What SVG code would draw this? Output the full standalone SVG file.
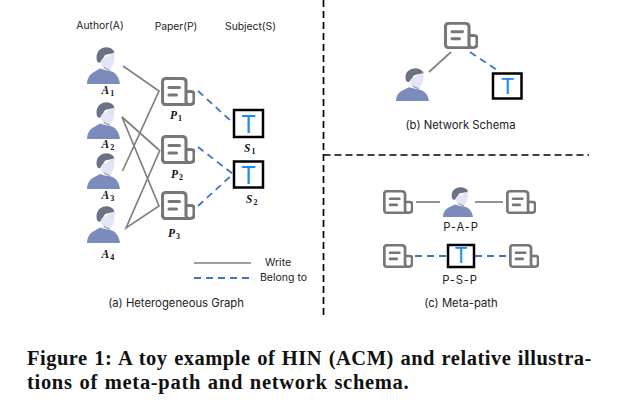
<svg xmlns="http://www.w3.org/2000/svg" xmlns:xlink="http://www.w3.org/1999/xlink" width="617" height="406" viewBox="0 0 617 406">
<style>
.w{stroke:#808080;stroke-width:1.7;fill:none}
.b{stroke:#4472C4;stroke-width:1.8;fill:none;stroke-dasharray:7 5}
.d{stroke:#000;stroke-width:1.7;fill:none;stroke-dasharray:7 4}
.t{font-family:"Inter","Liberation Sans",sans-serif;font-size:11.300px;fill:#222}
.h{font-size:10.300px}
.l{font-size:10.500px}
.pp{font-size:11.300px;letter-spacing:.8px}
.m{font-family:"Liberation Serif",serif;font-size:11.500px;font-weight:bold;font-style:italic;fill:#111}
.m tspan{font-size:8px;font-style:normal}
.tt{font-family:"Inter","Liberation Sans",sans-serif;font-weight:400;fill:#1E88F5;text-anchor:middle}
.box{fill:#fff;stroke:#000;stroke-width:2.500}
.c{font-family:"Liberation Serif",serif;font-weight:bold;font-size:20.500px;fill:#111}
</style>
<defs>
<symbol id="person" viewBox="0 0 33 37" preserveAspectRatio="none">
<path d="M0,37C0.500,30 3,27 8,24.500L13,21.500L18,23L23,24C28,25 32,29 33,37Z" fill="#7A8BBC"/>
<path d="M14,13L27.500,5C28,11 27,17 25,20C24,22 23.500,23.500 22,23.500L16,21.500C14,18 14,16 14,13Z" fill="#E3E5F5"/>
<path d="M10.500,15C8.500,11 9.500,5 13,2.500C16,0 20,-0.500 23,1C25.500,2 27,3.500 27.500,5.500C24,7 20,7 18,8C17,10 15.500,12 14.500,13L13,16Z" fill="#6C7285"/>
<path d="M17,20.500L23,23.500" stroke="#6C7285" stroke-width="0.800" fill="none"/>
</symbol>
<symbol id="paper" viewBox="0 0 34 29" preserveAspectRatio="none">
<g fill="none" stroke="#777" stroke-width="3.100" stroke-linecap="round" stroke-linejoin="round">
<path d="M26,27.500H5Q1.500,27.500 1.500,24V5Q1.500,1.500 5,1.500H21Q25,1.500 25,5V24Q25,27.500 28,27.500H29Q33,27.500 33,24V17Q33,14.500 30,14.500H25"/>
<path d="M8,10.500H18.500M8,18H15.500"/>
</g>
</symbol>
</defs>

<g id="connectors">
<path class="w" d="M123,66L159,91L122.500,171"/>
<path class="w" d="M159,150L122,117L159,206L126,228L160,150"/>
<path class="b" d="M198,91L231,121"/>
<path class="b" d="M198,147L233,174"/>
<path class="b" d="M198,206L233,174"/>
<path class="w" d="M194,263H251"/>
<path class="b" d="M194,278H250"/>
<path class="d" d="M323.500,0V316"/>
<path class="d" d="M323.500,155H589"/>
<path class="w" d="M451,52L429,72"/>
<path class="b" d="M470,52L497,70"/>
<path class="w" d="M416,202H440"/>
<path class="w" d="M475,202H503"/>
<path class="b" d="M415,256H447"/>
<path class="b" d="M475,256H507"/>
</g>

<g id="A1"><use href="#person" x="87" y="47" width="33" height="37"/><text class="m" x="101.500" y="94">A<tspan dx="1" dy="2">1</tspan></text></g>
<g id="A2"><use href="#person" x="87" y="102" width="33" height="37"/><text class="m" x="101.500" y="148">A<tspan dx="1" dy="2">2</tspan></text></g>
<g id="A3"><use href="#person" x="87" y="153" width="33" height="36"/><text class="m" x="101.500" y="199">A<tspan dx="1" dy="2">3</tspan></text></g>
<g id="A4"><use href="#person" x="87" y="206" width="33" height="37"/><text class="m" x="101.500" y="258">A<tspan dx="1" dy="2">4</tspan></text></g>

<g id="P1"><use href="#paper" x="161" y="77" width="34" height="29"/><text class="m" x="170" y="119">P<tspan dx="1" dy="2">1</tspan></text></g>
<g id="P2"><use href="#paper" x="161" y="135" width="34" height="29"/><text class="m" x="171" y="178">P<tspan dx="1" dy="2">2</tspan></text></g>
<g id="P3"><use href="#paper" x="161" y="191" width="34" height="29"/><text class="m" x="168" y="237">P<tspan dx="1" dy="2">3</tspan></text></g>

<g id="S1"><rect class="box" x="234" y="110" width="29" height="27"/><text class="tt" x="248.500" y="132.500" font-size="24">T</text><text class="m" x="244" y="152">S<tspan dx="1" dy="2">1</tspan></text></g>
<g id="S2"><rect class="box" x="234" y="161.500" width="29" height="26"/><text class="tt" x="248.500" y="183.500" font-size="24">T</text><text class="m" x="246" y="203">S<tspan dx="1" dy="2">2</tspan></text></g>

<g id="labels">
<text class="t h" x="100" y="29" text-anchor="middle">Author(A)</text>
<text class="t h" x="176" y="30" text-anchor="middle">Paper(P)</text>
<text class="t h" x="250.500" y="30" text-anchor="middle">Subject(S)</text>
<text class="t l" x="265" y="266">Write</text>
<text class="t l" x="260" y="281">Belong to</text>
<text class="t" x="176" y="307" text-anchor="middle">(a) Heterogeneous Graph</text>
<text class="t" x="460.500" y="129" text-anchor="middle">(b) Network Schema</text>
<text class="t pp" x="461" y="231" text-anchor="middle">P-A-P</text>
<text class="t pp" x="460" y="284" text-anchor="middle">P-S-P</text>
<text class="t" x="461" y="307" text-anchor="middle">(c) Meta-path</text>
</g>

<g id="schema-paper"><use href="#paper" x="444" y="22" width="34" height="27"/></g>
<g id="schema-author"><use href="#person" x="396" y="68" width="33" height="33"/></g>
<g id="schema-subject"><rect class="box" x="493" y="73.500" width="28.500" height="25"/><text class="tt" x="507.500" y="94" font-size="22">T</text></g>

<g id="pap-left"><use href="#paper" x="383" y="190" width="30" height="24"/></g>
<g id="pap-author"><use href="#person" x="443" y="187" width="30" height="30"/></g>
<g id="pap-right"><use href="#paper" x="506" y="190" width="30" height="24"/></g>
<g id="psp-left"><use href="#paper" x="383" y="244" width="30" height="24"/></g>
<g id="psp-subject"><rect class="box" x="448" y="245" width="26" height="22"/><text class="tt" x="461" y="263" font-size="21">T</text></g>
<g id="psp-right"><use href="#paper" x="509" y="244" width="30" height="24"/></g>

<g id="caption">
<text class="c" x="27" y="365" letter-spacing=".5" word-spacing="1">Figure 1: A toy example of HIN (ACM) and relative illustra-</text>
<text class="c" x="27" y="389" letter-spacing=".7" word-spacing="1">tions of meta-path and network schema.</text>
</g>
</svg>
